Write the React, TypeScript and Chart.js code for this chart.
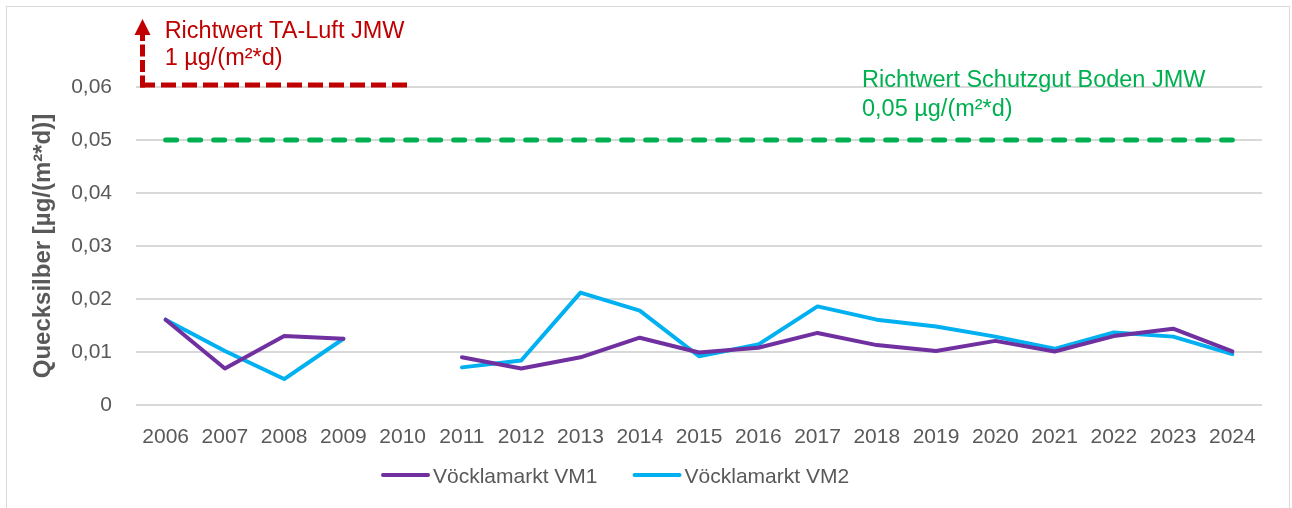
import React, { useEffect, useRef } from "react";
import { Chart, registerables } from "chart.js";

Chart.register(...registerables);

const years = ["2006", "2007", "2008", "2009", "2010", "2011", "2012", "2013", "2014", "2015", "2016", "2017", "2018", "2019", "2020", "2021", "2022", "2023", "2024"];
const vm1 = [0.0161, 0.0069, 0.0130, 0.0125, null, 0.0090, 0.0069, 0.0090, 0.0127, 0.0099, 0.0108, 0.0136, 0.0113, 0.0102, 0.0121, 0.0101, 0.0130, 0.0144, 0.0101];
const vm2 = [0.0161, 0.0102, 0.0049, 0.0125, null, 0.0071, 0.0084, 0.0212, 0.0178, 0.0092, 0.0114, 0.0186, 0.0161, 0.0148, 0.0129, 0.0106, 0.0137, 0.0129, 0.0096];
const bodenJmw = [0.05, 0.05, 0.05, 0.05, 0.05, 0.05, 0.05, 0.05, 0.05, 0.05, 0.05, 0.05, 0.05, 0.05, 0.05, 0.05, 0.05, 0.05, 0.05];
const seriesLabels = ["Vöcklamarkt VM1", "Vöcklamarkt VM2"];
const taLuftText = ["Richtwert TA-Luft JMW", "1 µg/(m²*d)"];
const bodenText = ["Richtwert Schutzgut Boden JMW", "0,05 µg/(m²*d)"];
const yAxisTitle = "Quecksilber [µg/(m²*d)]";
const Y_MIN = 0;
const Y_MAX = 0.06;
const Y_STEP = 0.01;

const FONT = '"Liberation Sans", Arial, sans-serif';
const GREY = "#595959";
const PURPLE = "#7030A0";
const CYAN = "#00B0F0";
const GREEN = "#00B050";
const RED = "#C00000";

const annotationPlugin = {
  id: "annotations",
  afterDatasetsDraw(chart: any) {
    const { ctx, chartArea, scales } = chart;
    const x = scales.x;
    const y = scales.y;
    ctx.save();
    // TA-Luft arrow (off-scale limit)
    const yTop = y.getPixelForValue(Y_MAX) - 2;
    const xc = chartArea.left + 6.5;
    const xe = x.getPixelForValue(4) + 5;
    ctx.strokeStyle = RED;
    ctx.lineWidth = 5;
    ctx.lineCap = "butt";
    // vertical part, dashed from the corner upwards
    ctx.setLineDash([12, 3.5]);
    ctx.beginPath();
    ctx.moveTo(xc, yTop + 2.5);
    ctx.lineTo(xc, yTop - 51);
    ctx.stroke();
    // horizontal part, dashed from the corner to the right
    ctx.setLineDash([15, 6]);
    ctx.beginPath();
    ctx.moveTo(xc - 2.5, yTop);
    ctx.lineTo(xe, yTop);
    ctx.stroke();
    ctx.setLineDash([]);
    ctx.fillStyle = RED;
    ctx.beginPath();
    ctx.moveTo(xc, yTop - 66);
    ctx.lineTo(xc - 8, yTop - 50);
    ctx.lineTo(xc + 8, yTop - 50);
    ctx.closePath();
    ctx.fill();
    ctx.font = `23.5px ${FONT}`;
    ctx.textAlign = "left";
    ctx.textBaseline = "alphabetic";
    const xt = x.getPixelForValue(0);
    ctx.fillText(taLuftText[0], xt - 1, yTop - 47);
    ctx.fillText(taLuftText[1], xt - 1, yTop - 20);
    // Boden text
    const yb = y.getPixelForValue(0.05);
    const xg = x.getPixelForValue(11.75);
    ctx.fillStyle = GREEN;
    ctx.fillText(bodenText[0], xg, yb - 53);
    ctx.fillText(bodenText[1], xg, yb - 24);
    ctx.restore();
  },
};

const legendPlugin = {
  id: "customLegend",
  afterDraw(chart: any) {
    const { ctx, chartArea } = chart;
    ctx.save();
    ctx.font = `21px ${FONT}`;
    ctx.textBaseline = "alphabetic";
    ctx.textAlign = "left";
    let cx = chartArea.left + 246;
    const ly = 475;
    for (let i = 0; i < 2; i++) {
      const ds = chart.data.datasets[i];
      ctx.strokeStyle = ds.borderColor;
      ctx.lineWidth = 4;
      ctx.lineCap = "round";
      ctx.beginPath();
      ctx.moveTo(cx + 1, ly);
      ctx.lineTo(cx + 46, ly);
      ctx.stroke();
      ctx.fillStyle = GREY;
      ctx.fillText(ds.label, cx + 51, ly + 8);
      cx += 51 + ctx.measureText(ds.label).width + 36;
    }
    ctx.restore();
  },
};

export default function App() {
  const ref = useRef<HTMLCanvasElement | null>(null);
  useEffect(() => {
    if (!ref.current) return;
    const chart = new Chart(ref.current, {
      type: "line",
      data: {
        labels: years,
        datasets: [
          { label: seriesLabels[0], data: vm1, borderColor: PURPLE, backgroundColor: PURPLE, borderWidth: 4, pointRadius: 0, tension: 0, spanGaps: false, borderJoinStyle: "round", borderCapStyle: "round" },
          { label: seriesLabels[1], data: vm2, borderColor: CYAN, backgroundColor: CYAN, borderWidth: 4, pointRadius: 0, tension: 0, spanGaps: false, borderJoinStyle: "round", borderCapStyle: "round" },
          { label: "Richtwert Schutzgut Boden JMW", data: bodenJmw, borderColor: GREEN, backgroundColor: GREEN, borderWidth: 5, pointRadius: 0, borderDash: [11, 13], borderCapStyle: "round" },
        ],
      },
      options: {
        animation: false,
        responsive: false,
        maintainAspectRatio: false,
        layout: { padding: { top: 87, right: 30, left: 0, bottom: 0 } },
        plugins: { legend: { display: false }, tooltip: { enabled: false } },
        scales: {
          x: {
            offset: true,
            grid: { display: false, drawTicks: false },
            border: { display: false },
            ticks: { padding: 20, color: GREY, font: { size: 21, family: FONT }, maxRotation: 0, autoSkip: false },
            afterFit: (s: any) => { s.height = 103; },
          },
          y: {
            min: Y_MIN,
            max: Y_MAX,
            ticks: {
              stepSize: Y_STEP,
              padding: 24,
              color: GREY,
              font: { size: 21, family: FONT },
              callback: (v: any) => (Number(v) === 0 ? "0" : Number(v).toFixed(2).replace(".", ",")),
            },
            grid: { color: "#d9d9d9", lineWidth: 2, drawTicks: false },
            border: { display: false },
            title: { display: true, text: yAxisTitle, color: GREY, font: { size: 24, weight: "bold", family: FONT }, padding: { top: 29, bottom: 0 } },
            afterFit: (s: any) => { s.width = 136; },
          },
        },
      },
      plugins: [annotationPlugin, legendPlugin],
    });
    return () => chart.destroy();
  }, []);
  return (
    <div style={{ position: "fixed", left: 0, top: 0, width: 1292, height: 508, background: "#fff", overflow: "hidden" }}>
      <div style={{ position: "absolute", left: 6, top: 6, width: 1284, height: 540, border: "1px solid #d9d9d9", boxSizing: "border-box" }} />
      <canvas ref={ref} width={1292} height={508} style={{ position: "absolute", left: 0, top: 0, width: 1292, height: 508 }} />
    </div>
  );
}
